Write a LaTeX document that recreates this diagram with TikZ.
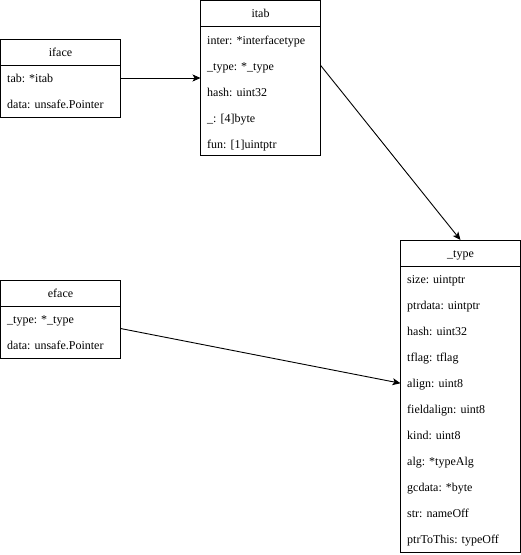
\documentclass[tikz,border=0pt]{standalone}
\usepackage{fontspec}
\setmainfont{Liberation Serif}
\usetikzlibrary{arrows.meta,calc}

\tikzset{
  classbox/.style={draw, line width=1pt, minimum width=120pt, inner sep=0pt, outer sep=0pt, anchor=north west},
  classname/.style={font=\fontsize{12}{14}\selectfont, inner sep=0pt, anchor=base},
  field/.style={anchor=base west, font=\fontsize{12}{14}\selectfont, inner sep=0pt},
  sepline/.style={line width=1pt},
  link/.style={-{Stealth[length=8pt,width=7pt,inset=2pt]}, line width=0.9pt}
}

\begin{document}
\begin{tikzpicture}[x=1pt,y=-1pt]
  \useasboundingbox (0,0) rectangle (521,555);

  % iface
  \node[classbox, minimum height=78pt] (iface) at (0.5,39) {};
  \node[classname] at ($(iface.north)+(0,17)$) {iface};
  \draw[sepline] ($(iface.north west)+(0,26)$) -- ($(iface.north east)+(0,26)$);
  \foreach \f [count=\i] in {{tab: *itab}, {data: unsafe.Pointer}}
    \node[field] at ($(iface.north west)+(6.5,26*\i+17.5)$) {\f};

  % itab
  \node[classbox, minimum height=155pt] (itab) at (200.5,0.5) {};
  \node[classname] at ($(itab.north)+(0,17)$) {itab};
  \draw[sepline] ($(itab.north west)+(0,26)$) -- ($(itab.north east)+(0,26)$);
  \foreach \f [count=\i] in {{inter: *interfacetype}, {\_type: *\_type}, {hash: uint32}, {\_: [4]byte}, {fun: [1]uintptr}}
    \node[field] at ($(itab.north west)+(6.5,26*\i+17.5)$) {\f};

  % eface
  \node[classbox, minimum height=78pt] (eface) at (0.5,280) {};
  \node[classname] at ($(eface.north)+(0,17)$) {eface};
  \draw[sepline] ($(eface.north west)+(0,26)$) -- ($(eface.north east)+(0,26)$);
  \foreach \f [count=\i] in {{\_type: *\_type}, {data: unsafe.Pointer}}
    \node[field] at ($(eface.north west)+(6.5,26*\i+17.5)$) {\f};

  % _type
  \node[classbox, minimum height=312pt] (type) at (400.5,240) {};
  \node[classname] at ($(type.north)+(0,17)$) {\_type};
  \draw[sepline] ($(type.north west)+(0,26)$) -- ($(type.north east)+(0,26)$);
  \foreach \f [count=\i] in {{size: uintptr}, {ptrdata: uintptr}, {hash: uint32}, {tflag: tflag}, {align: uint8}, {fieldalign: uint8}, {kind: uint8}, {alg: *typeAlg}, {gcdata: *byte}, {str: nameOff}, {ptrToThis: typeOff}}
    \node[field] at ($(type.north west)+(6.5,26*\i+17.5)$) {\f};

  % pointers
  \draw[link] (iface.east) -- (itab.west);
  \draw[link] (itab.12) -- (type.north);
  \draw[link] (eface.-9.5) -- (type.168);
\end{tikzpicture}
\end{document}
